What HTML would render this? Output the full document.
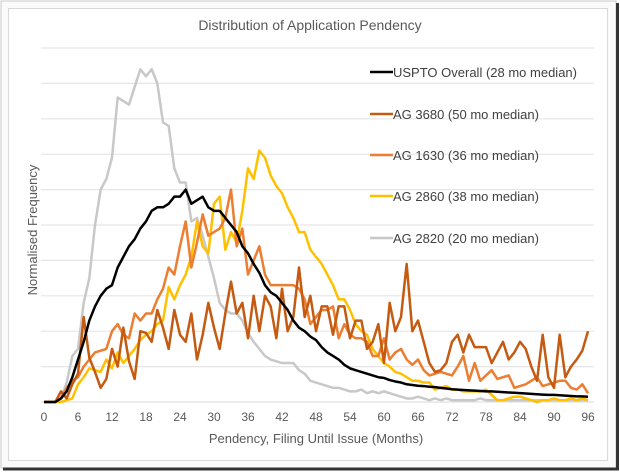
<!DOCTYPE html>
<html><head><meta charset="utf-8"><style>
html,body{margin:0;padding:0;background:#fff;width:620px;height:472px;overflow:hidden;font-family:"Liberation Sans",sans-serif;}
svg{position:absolute;left:0;top:0;}
</style></head><body>
<svg width="620" height="472">
<rect x="1" y="1" width="615" height="467" fill="#fafafa" stroke="#c8c8c8" stroke-width="1"/>
<line x1="617.5" y1="3" x2="617.5" y2="470" stroke="#333" stroke-width="3"/>
<line x1="3" y1="469" x2="619" y2="469" stroke="#333" stroke-width="3"/>
<rect x="8.5" y="8.5" width="599" height="452" fill="#fff" stroke="#d9d9d9"/>
<text x="310" y="30" text-anchor="middle" font-size="14" fill="#595959">Distribution of Application Pendency</text>
<g id="grid"></g>
<g id="xticks"></g>
<g id="series"></g>
<text transform="translate(37,230) rotate(-90)" text-anchor="middle" font-size="13" fill="#595959">Normalised Frequency</text>
<text x="316" y="443" text-anchor="middle" font-size="13" fill="#595959">Pendency, Filing Until Issue (Months)</text>
<g id="legend"></g>
</svg>
<script>
const xTicks=[0,6,12,18,24,30,36,42,48,54,60,66,72,78,84,90,96];
const seriesNames=["USPTO Overall (28 mo median)","AG 3680 (50 mo median)","AG 1630 (36 mo median)","AG 2860 (38 mo median)","AG 2820 (20 mo median)"];
const usptoOverall=[0,0,0,0.1,0.3,0.7,1.2,1.7,2.3,2.7,3.0,3.2,3.3,3.8,4.1,4.4,4.6,4.9,5.1,5.4,5.5,5.5,5.6,5.8,5.8,6.0,5.6,5.7,5.8,5.5,5.4,5.4,5.2,5.0,4.8,4.4,4.2,3.9,3.65,3.3,3.1,3.0,2.8,2.6,2.3,2.1,2.0,1.85,1.75,1.55,1.4,1.3,1.2,1.05,0.95,0.9,0.85,0.8,0.75,0.7,0.68,0.62,0.58,0.55,0.5,0.48,0.46,0.45,0.43,0.42,0.4,0.38,0.36,0.35,0.34,0.33,0.32,0.31,0.3,0.3,0.29,0.28,0.27,0.26,0.25,0.24,0.23,0.22,0.21,0.2,0.2,0.19,0.18,0.17,0.16,0.16,0.15];
const ag3680=[0,0,0,0.3,0.1,0.5,0.8,2.4,1.25,0.85,0.4,0.65,1.5,1.0,2.1,1.15,0.65,2.0,1.95,1.7,2.6,2.1,1.5,2.6,1.9,1.7,2.5,1.2,1.9,2.8,2.1,1.5,2.5,3.4,2.5,2.8,1.8,3.0,2.0,3.0,2.7,1.8,3.2,2.0,2.4,3.8,2.4,3.0,2.0,2.7,2.7,1.9,2.7,2.7,1.8,2.3,2.3,1.5,1.7,2.2,1.1,2.8,2.0,2.4,3.9,2.0,2.3,1.7,1.1,0.85,0.9,1.1,1.7,1.9,1.4,1.9,1.55,1.55,1.55,1.1,1.4,1.7,1.2,1.4,1.7,1.5,1.0,0.6,1.9,0.7,0.4,1.9,0.7,1.0,1.2,1.45,2.0];
const ag1630=[0,0,0,0.1,0.4,0.6,0.7,1.0,1.2,1.4,1.45,1.5,2.0,2.2,1.9,1.8,2.5,2.3,2.5,2.5,2.9,3.2,3.8,3.6,4.4,5.1,3.8,4.5,5.3,4.7,4.8,4.9,5.2,6.0,4.4,4.9,3.6,4.0,4.4,3.6,3.3,3.3,3.3,3.3,3.3,3.2,2.9,2.2,2.4,2.6,2.6,2.7,1.8,2.2,1.9,1.8,1.8,1.7,1.3,1.3,1.8,1.2,1.4,1.5,1.2,1.05,1.2,0.9,0.75,0.8,0.85,0.8,0.75,1.0,1.3,0.6,1.1,0.6,0.75,0.9,0.65,0.7,0.75,0.4,0.45,0.5,0.6,0.7,0.45,0.5,0.55,0.6,0.6,0.4,0.35,0.5,0.25];
const ag2860=[0,0,0,0,0.05,0.1,0.5,0.7,0.95,0.9,0.85,1.2,0.95,1.4,1.1,1.3,1.5,1.75,1.9,2.0,2.2,2.3,3.25,2.9,3.3,3.6,4.1,5.1,4.4,4.2,5.6,5.8,4.3,4.8,4.5,5.4,6.6,6.3,7.1,6.9,6.4,6.1,5.9,5.5,5.2,4.8,4.8,4.3,4.1,3.9,3.6,3.3,2.9,2.9,2.6,2.2,2.0,1.9,1.5,1.3,1.1,1.0,0.85,0.8,0.7,0.6,0.6,0.55,0.55,0.35,0.4,0.45,0.35,0.35,0.3,0.3,0.3,0.3,0.35,0.2,0.05,0.05,0.1,0.15,0.15,0.1,0.05,0,0.05,0.05,0.1,0.05,0.05,0.1,0.05,0.1,0.05];
const ag2820=[0,0,0,0.1,0.55,1.3,1.5,2.8,3.5,5.0,6.0,6.3,6.9,8.6,8.5,8.4,8.9,9.4,9.2,9.4,9.0,7.9,7.8,6.6,6.2,6.2,5.1,5.2,4.7,4.1,3.5,2.8,2.6,2.5,2.5,2.3,1.95,1.7,1.5,1.3,1.2,1.15,1.1,1.1,1.1,0.9,0.8,0.6,0.55,0.5,0.45,0.4,0.4,0.35,0.3,0.3,0.35,0.25,0.3,0.25,0.3,0.25,0.2,0.15,0.1,0.1,0.15,0.1,0.05,0.1,0.05,0.1,0.05,0.05,0.05,0.05,0.05,0.1,0.05,0.05,0.05,0.05,0.05,0.05,0.05,0.05,0.05,0.05,0.05,0.05,0.05,0.05,0.05,0.05,0.05,0.05,0.05];
const gridValues=[1,2,3,4,5,6,7,8,9,10];

const NS="http://www.w3.org/2000/svg";
const X0=44,X1=588,XMAX=96,Y0=402,UNIT=35.4;
function xs(v){return X0+(X1-X0)*v/XMAX;}
function ys(v){return Y0-v*UNIT;}
function mk(tag,attrs,parent){const e=document.createElementNS(NS,tag);for(const k in attrs)e.setAttribute(k,attrs[k]);parent.appendChild(e);return e;}

const grid=document.getElementById('grid');
gridValues.forEach(v=>{
  const l=mk('line',{x1:41,x2:594,y1:ys(v),y2:ys(v),stroke:'#e6e6e6','stroke-width':1.2},grid);
  
  
});
const base=mk('line',{x1:41,x2:594,y1:Y0,y2:Y0,stroke:'#e0e0e0','stroke-width':1.2},grid);



const xt=document.getElementById('xticks');
xTicks.forEach(t=>{
  const e=mk('text',{x:xs(t),y:421,'text-anchor':'middle','font-size':12,fill:'#595959'},xt);
  e.textContent=t;
  
  
});

const allSeries=[usptoOverall,ag3680,ag1630,ag2860,ag2820];
const colors=['#000000','#c55a11','#ed7d31','#ffc000','#c8c8c8'];
const drawOrder=[4,3,2,1,0];
const sg=document.getElementById('series');
const snames=['line-uspto-overall','line-ag-3680','line-ag-1630','line-ag-2860','line-ag-2820'];
drawOrder.forEach(i=>{
  const d=allSeries[i].map((v,k)=>(k?'L':'M')+xs(k).toFixed(2)+','+ys(v).toFixed(2)).join(' ');
  const p=mk('path',{d:d,fill:'none',stroke:colors[i],'stroke-width':2.5,'stroke-linejoin':'round'},sg);
  
  
});

const lg=document.getElementById('legend');
const ly=[72,114,155,196,238];
seriesNames.forEach((n,i)=>{
  const g=mk('g',{},lg);
  
  
  mk('line',{x1:370,x2:393,y1:ly[i],y2:ly[i],stroke:colors[i],'stroke-width':2.5},g);
  const t=mk('text',{x:393,y:ly[i]+5,'font-size':13,fill:'#404040'},g);
  t.textContent=n;
});
</script>
</body></html>
